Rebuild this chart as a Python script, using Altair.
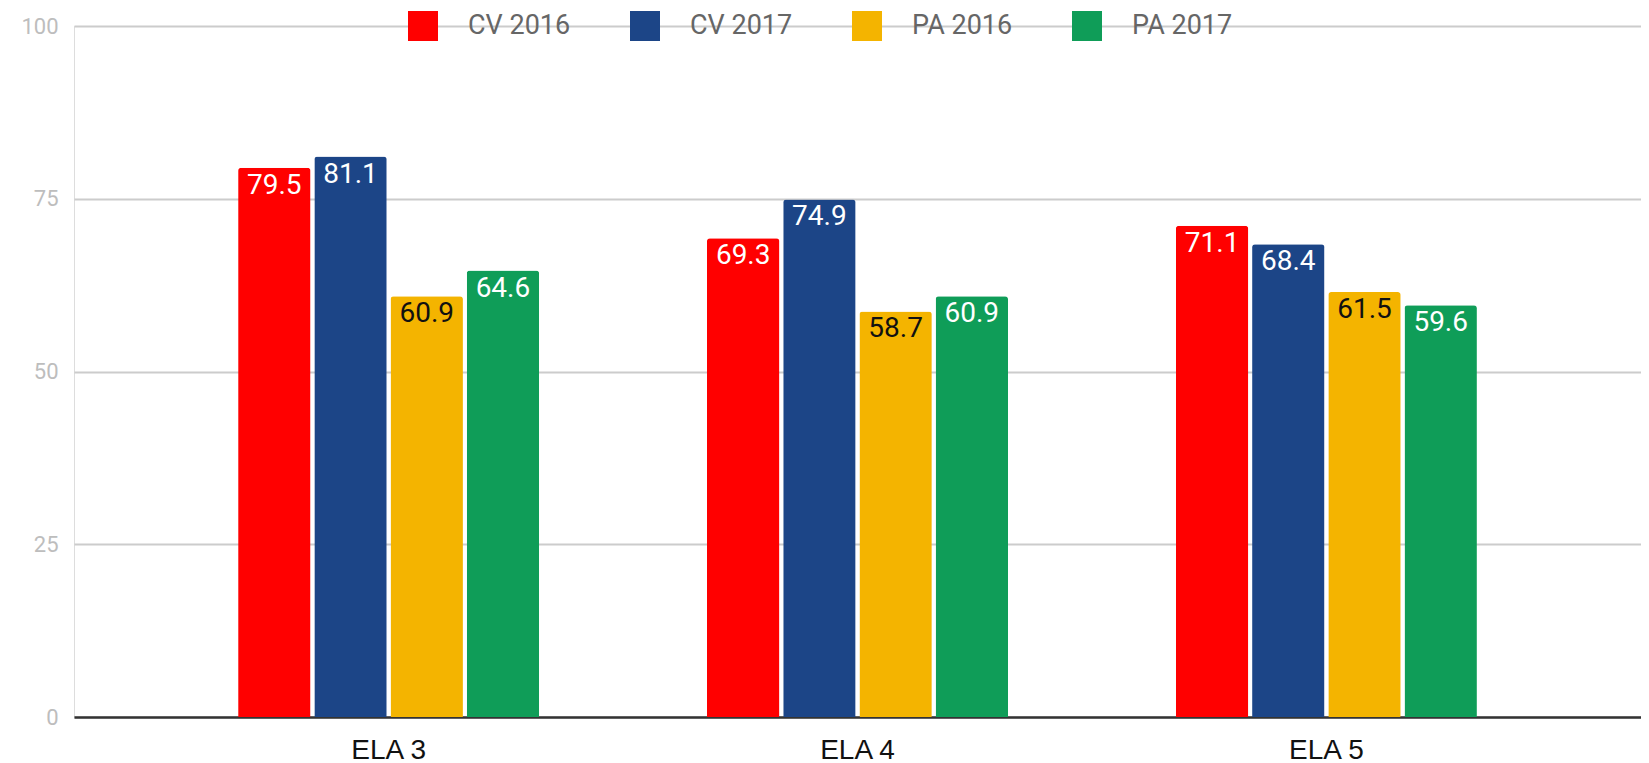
import altair as alt
import pandas as pd

categories = ["ELA 3", "ELA 4", "ELA 5"]
series = ["CV 2016", "CV 2017", "PA 2016", "PA 2017"]
cv2016 = [79.5, 69.3, 71.1]
cv2017 = [81.1, 74.9, 68.4]
pa2016 = [60.9, 58.7, 61.5]
pa2017 = [64.6, 60.9, 59.6]
colors = ["#ff0000", "#1c4587", "#f4b400", "#0f9d58"]
y_ticks = [0, 25, 50, 75, 100]

rows = []
for s, vals in zip(series, [cv2016, cv2017, pa2016, pa2017]):
    for c, v in zip(categories, vals):
        rows.append({"category": c, "series": s, "value": v})
df = pd.DataFrame(rows)

x_enc = alt.X("category:N", sort=categories, title=None,
              scale=alt.Scale(paddingInner=0.358, paddingOuter=0.35),
              axis=alt.Axis(labelAngle=0, labelFontSize=28, labelColor="#111111",
                            labelFont="Liberation Sans", labelPadding=19, ticks=False,
                            domain=True, domainColor="#333333", domainWidth=2.5,
                            grid=False))
xoff = alt.XOffset("series:N", sort=series,
                   scale=alt.Scale(paddingInner=0.05, paddingOuter=0))
y_enc = alt.Y("value:Q", title=None,
              scale=alt.Scale(domain=[0, 100], nice=False),
              axis=alt.Axis(values=y_ticks, labelFontSize=22, labelColor="#bdbdbd",
                            labelFont="Roboto", labelPadding=16, ticks=False,
                            domain=False, grid=True, gridColor="#cccccc",
                            gridWidth=2, minExtent=66, maxExtent=66))

bars = alt.Chart(df).mark_bar(cornerRadiusTopLeft=3, cornerRadiusTopRight=3).encode(
    x=x_enc, xOffset=xoff, y=y_enc,
    color=alt.Color("series:N", sort=series,
                    scale=alt.Scale(domain=series, range=colors),
                    legend=alt.Legend(title=None, orient="none", direction="horizontal",
                                      legendX=334, legendY=-15,
                                      symbolType="square", symbolSize=900,
                                      symbolStrokeWidth=0, symbolOpacity=1,
                                      labelFontSize=27, labelFont="Roboto",
                                      labelColor="#666666", labelOffset=30,
                                      labelLimit=400,
                                      columnPadding=59, padding=0)),
)

labels = alt.Chart(df).mark_text(baseline="top", dy=4, fontSize=28, font="Roboto").encode(
    x=x_enc, xOffset=xoff, y=y_enc,
    text=alt.Text("value:Q", format=".1f"),
    color=alt.condition(alt.datum.series == "PA 2016", alt.value("#111111"), alt.value("#ffffff")),
)

chart = (bars + labels).properties(
    width=1567, height=691,
    padding={"top": 3, "left": 0, "right": 0, "bottom": 0},
).configure_view(strokeWidth=0).configure(background="white")

chart.save("out.html", embed_options={"renderer": "svg", "actions": False})
